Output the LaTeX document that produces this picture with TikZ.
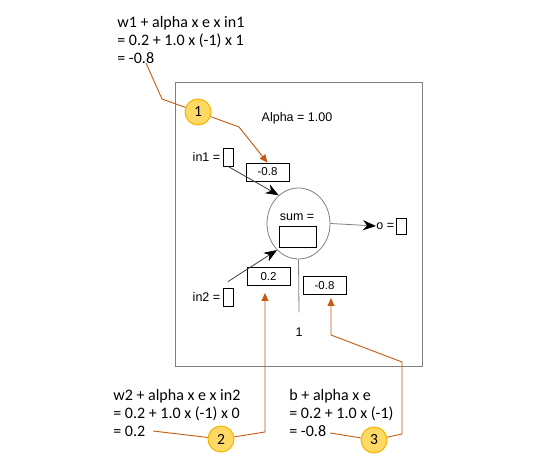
\documentclass[tikz,border=0pt]{standalone}
\usepackage{fontspec}
\setmainfont{Liberation Sans}
\newfontfamily\calloutfont{Carlito}
\usetikzlibrary{arrows.meta, positioning, shapes.geometric, calc}
\definecolor{corange}{HTML}{C55A11}
\definecolor{cyellow}{HTML}{FFD966}
\definecolor{cgold}{HTML}{F5B400}
\definecolor{cgrey}{HTML}{808080}
\definecolor{cdark}{HTML}{404040}
\tikzset{
  every picture/.style={line width=0.8pt},
  valbox/.style={draw=black, minimum width=43pt, minimum height=18pt, inner sep=0pt, font=\fontsize{11.5}{13}\selectfont},
  portbox/.style={draw=black, minimum width=10pt, minimum height=#1, inner sep=0pt},
  portbox/.default=18pt,
  lbl/.style={font=\fontsize{12.5}{14}\selectfont, inner sep=0pt},
  calltext/.style={font=\calloutfont\fontsize{16}{18}\selectfont, align=left, anchor=north west, inner sep=0pt},
  badge/.style={circle, draw=cgold, fill=cyellow, minimum size=26pt, inner sep=0pt, line width=1pt, font=\calloutfont\fontsize{15.5}{18}\selectfont},
  wire/.style={-{Stealth[length=13pt, width=10pt, inset=4pt, color=black]}, draw=cdark},
  callout/.style={draw=corange, line width=0.9pt},
  callarrow/.style={callout, -{Triangle[length=8pt, width=7pt]}},
}
\begin{document}
\begin{tikzpicture}[x=1pt, y=-1pt]
  \useasboundingbox (0,0) rectangle (560,457);
  % neuron frame
  \draw[cgrey] (175,82) rectangle (422,366);
  \node[lbl] (alpha) at (297,118) {Alpha = 1.00};
  \node[ellipse, draw=cgrey, minimum width=63pt, minimum height=71pt, inner sep=0pt] (sum) at (298.5,223.5) {};
  \node[lbl] (sumlbl) at (297,217) {sum =};
  \node[draw=black, minimum width=37pt, minimum height=21pt, inner sep=0pt] (sumbox) at (297.5,236.5) {};
  % inputs
  \node[portbox] (in1box) at (228,157) {};
  \node[lbl, left=2pt of in1box] (in1) {in1 =};
  \node[portbox] (in2box) at (228,297) {};
  \node[lbl, left=2pt of in2box] (in2) {in2 =};
  \node[valbox] (w1box) at (267.5,172) {-0.8};
  \node[valbox] (w2box) at (268.5,276.5) {0.2};
  \node[valbox] (bbox) at (324.5,285.5) {-0.8};
  \draw[wire] (in1box.south) -- (sum.125);
  \draw[wire] ([yshift=6pt]in2box.north) -- (sum.231);
  % output and bias
  \node[lbl, anchor=west] (out) at (376,226) {o =};
  \node[portbox=16pt, right=1pt of out] (obox) {};
  \draw[wire, draw=cgrey] (sum.east) -- (out.west);
  \node[lbl] (one) at (299,332) {1};
  \draw[cgrey] (sum.south) -- ([yshift=15pt]one.north);
  % callout texts
  \node[calltext] (t1) at (117,16) {w1 + alpha x e x in1\\= 0.2 + 1.0 x (-1) x 1\\= -0.8};
  \node[calltext] (t2) at (113,389) {w2 + alpha x e x in2\\= 0.2 + 1.0 x (-1) x 0\\= 0.2};
  \node[calltext] (t3) at (289,389) {b + alpha x e\\= 0.2 + 1.0 x (-1)\\= -0.8};
  \node[badge] (b1) at (198,112) {1};
  \node[badge] (b2) at (221,439) {2};
  \node[badge] (b3) at (374,440) {3};
  % callout leaders
  \coordinate (c1a) at (146,63);
  \coordinate (c1b) at (162,99);
  \coordinate (c1c) at (239,127);
  \draw[callout] (c1a) -- (c1b) -- (b1);
  \draw[callarrow] (b1) -- (c1c) -- (w1box.north);
  \coordinate (c2a) at (153,431);
  \coordinate (c2b) at (265,432);
  \coordinate (c2c) at (265,293);
  \draw[callout] (c2a) -- (b2);
  \draw[callarrow] (b2) -- (c2b) -- (c2c);
  \coordinate (c3a) at (330,433);
  \coordinate (c3b) at (402,434);
  \coordinate (c3c) at (402,362);
  \coordinate (c3d) at (331,335);
  \coordinate (c3e) at (331,298);
  \draw[callout] (c3a) -- (b3);
  \draw[callarrow] (b3) -- (c3b) -- (c3c) -- (c3d) -- (c3e);
\end{tikzpicture}
\end{document}
